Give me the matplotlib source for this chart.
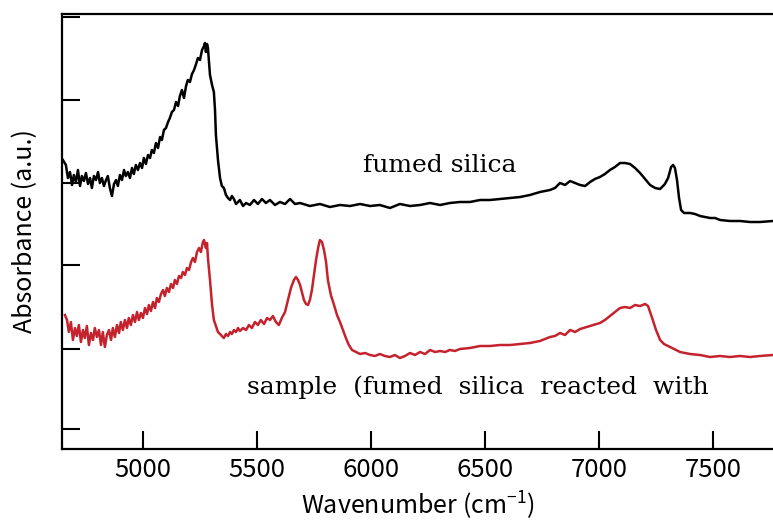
import matplotlib
matplotlib.use("Agg")
import matplotlib.pyplot as plt

plt.rcParams['font.family'] = ['Noto Sans CJK JP', 'DejaVu Sans']
plt.rcParams['mathtext.fontset'] = 'custom'
plt.rcParams['mathtext.rm'] = 'Noto Sans CJK JP'
plt.rcParams['mathtext.it'] = 'Noto Sans CJK JP'

# fumed silica (black), wavenumber in cm-1, absorbance in a.u. (offset)
silica_wn = [4649, 4662, 4671, 4680, 4689, 4697, 4706, 4715, 4724, 4732,
             4741, 4750, 4759, 4768, 4776, 4785, 4794, 4803, 4811, 4820,
             4829, 4838, 4846, 4855, 4864, 4873, 4882, 4890, 4899, 4908,
             4917, 4925, 4934, 4943, 4952, 4960, 4969, 4978, 4987, 4996,
             5004, 5013, 5022, 5031, 5039, 5048, 5057, 5066, 5075, 5083,
             5092, 5101, 5110, 5118, 5127, 5136, 5145, 5154, 5162, 5171,
             5180, 5189, 5197, 5206, 5215, 5224, 5233, 5241, 5250, 5259,
             5268, 5272, 5276, 5281, 5285, 5294, 5303, 5311, 5316, 5320,
             5329, 5338, 5346, 5355, 5364, 5373, 5382, 5390, 5399, 5408,
             5417, 5425, 5439, 5452, 5469, 5487, 5504, 5522, 5539, 5557,
             5579, 5601, 5623, 5645, 5667, 5689, 5732, 5776, 5820, 5864,
             5908, 5952, 5996, 6039, 6083, 6127, 6171, 6215, 6259, 6303,
             6346, 6390, 6434, 6478, 6522, 6566, 6610, 6654, 6697, 6741,
             6785, 6807, 6829, 6851, 6873, 6895, 6917, 6939, 6961, 6982,
             7004, 7026, 7048, 7070, 7092, 7114, 7136, 7158, 7180, 7202,
             7224, 7246, 7268, 7289, 7303, 7316, 7325, 7333, 7342, 7351,
             7360, 7373, 7399, 7421, 7443, 7465, 7487, 7509, 7531, 7574,
             7618, 7662, 7706, 7763]
silica_abs = [2.89, 2.84, 2.71, 2.77, 2.64, 2.74, 2.67, 2.79, 2.63, 2.73,
              2.68, 2.76, 2.65, 2.71, 2.61, 2.73, 2.69, 2.77, 2.66, 2.71,
              2.63, 2.69, 2.73, 2.61, 2.53, 2.65, 2.69, 2.63, 2.74, 2.69,
              2.79, 2.73, 2.77, 2.71, 2.81, 2.75, 2.84, 2.79, 2.86, 2.81,
              2.91, 2.85, 2.94, 2.91, 2.99, 2.96, 3.06, 3.01, 3.12, 3.09,
              3.19, 3.21, 3.27, 3.31, 3.37, 3.39, 3.47, 3.43, 3.53, 3.59,
              3.51, 3.63, 3.69, 3.67, 3.75, 3.79, 3.85, 3.91, 3.89, 3.99,
              4.03, 4.06, 3.97, 4.05, 4.01, 3.74, 3.64, 3.57, 3.39, 3.14,
              2.89, 2.71, 2.63, 2.61, 2.54, 2.51, 2.49, 2.53, 2.50, 2.45,
              2.47, 2.49, 2.43, 2.46, 2.44, 2.49, 2.45, 2.50, 2.46, 2.49,
              2.44, 2.47, 2.45, 2.50, 2.45, 2.46, 2.43, 2.45, 2.42, 2.44,
              2.43, 2.45, 2.43, 2.44, 2.41, 2.45, 2.43, 2.44, 2.46, 2.44,
              2.46, 2.47, 2.47, 2.49, 2.49, 2.50, 2.51, 2.52, 2.54, 2.57,
              2.59, 2.61, 2.66, 2.64, 2.68, 2.66, 2.64, 2.63, 2.67, 2.70,
              2.72, 2.75, 2.79, 2.82, 2.86, 2.86, 2.85, 2.81, 2.76, 2.70,
              2.64, 2.61, 2.60, 2.65, 2.71, 2.82, 2.84, 2.81, 2.69, 2.51,
              2.39, 2.36, 2.36, 2.35, 2.33, 2.32, 2.31, 2.31, 2.29, 2.28,
              2.28, 2.27, 2.27, 2.28]

# sample (red)
sample_wn = [4658, 4667, 4675, 4684, 4693, 4702, 4710, 4719, 4728, 4737,
             4745, 4754, 4763, 4772, 4781, 4789, 4798, 4807, 4816, 4824,
             4833, 4842, 4851, 4860, 4868, 4877, 4886, 4895, 4903, 4912,
             4921, 4930, 4938, 4947, 4956, 4965, 4974, 4982, 4991, 5000,
             5009, 5018, 5026, 5035, 5044, 5053, 5061, 5070, 5079, 5088,
             5096, 5105, 5114, 5123, 5132, 5140, 5149, 5158, 5167, 5175,
             5184, 5193, 5202, 5211, 5219, 5228, 5237, 5246, 5254, 5263,
             5268, 5276, 5281, 5285, 5294, 5303, 5311, 5320, 5329, 5338,
             5346, 5355, 5364, 5373, 5382, 5390, 5399, 5408, 5417, 5425,
             5439, 5452, 5465, 5478, 5491, 5504, 5517, 5531, 5544, 5557,
             5570, 5583, 5596, 5609, 5623, 5636, 5649, 5662, 5671, 5680,
             5689, 5697, 5706, 5715, 5724, 5732, 5741, 5750, 5759, 5768,
             5776, 5785, 5794, 5803, 5811, 5824, 5838, 5851, 5864, 5877,
             5890, 5903, 5917, 5934, 5952, 5974, 5996, 6017, 6039, 6061,
             6083, 6105, 6127, 6149, 6171, 6193, 6215, 6237, 6259, 6281,
             6303, 6325, 6346, 6368, 6390, 6434, 6478, 6522, 6566, 6610,
             6654, 6697, 6741, 6785, 6807, 6829, 6851, 6873, 6895, 6917,
             6961, 7004, 7026, 7048, 7070, 7092, 7114, 7136, 7158, 7180,
             7202, 7215, 7233, 7250, 7268, 7285, 7303, 7320, 7338, 7355,
             7377, 7399, 7443, 7487, 7531, 7574, 7618, 7662, 7706, 7763]
sample_abs = [1.34, 1.29, 1.17, 1.27, 1.09, 1.21, 1.13, 1.24, 1.07, 1.19,
              1.11, 1.23, 1.04, 1.16, 1.09, 1.21, 1.12, 1.19, 1.04, 1.17,
              1.02, 1.14, 1.19, 1.09, 1.21, 1.12, 1.24, 1.16, 1.27, 1.19,
              1.29, 1.21, 1.31, 1.24, 1.34, 1.27, 1.37, 1.29, 1.36, 1.31,
              1.41, 1.35, 1.44, 1.38, 1.47, 1.41, 1.51, 1.47, 1.55, 1.59,
              1.53, 1.61, 1.57, 1.65, 1.61, 1.69, 1.65, 1.73, 1.71, 1.77,
              1.74, 1.81, 1.79, 1.87, 1.91, 1.87, 1.97, 2.01, 1.97, 2.07,
              2.09, 2.01, 2.06, 1.91, 1.69, 1.44, 1.29, 1.23, 1.17, 1.15,
              1.13, 1.11, 1.15, 1.13, 1.17, 1.15, 1.19, 1.17, 1.21, 1.18,
              1.21, 1.19, 1.24, 1.21, 1.27, 1.24, 1.29, 1.25, 1.31, 1.29,
              1.33, 1.27, 1.24, 1.31, 1.37, 1.49, 1.61, 1.69, 1.72, 1.69,
              1.64, 1.57, 1.49, 1.45, 1.44, 1.49, 1.59, 1.74, 1.89, 2.01,
              2.09, 2.07, 1.99, 1.87, 1.69, 1.54, 1.44, 1.34, 1.27, 1.19,
              1.11, 1.04, 0.99, 0.97, 0.95, 0.96, 0.94, 0.93, 0.95, 0.93,
              0.92, 0.94, 0.91, 0.93, 0.96, 0.94, 0.97, 0.95, 0.99, 0.97,
              0.98, 0.97, 0.99, 0.98, 1.00, 1.01, 1.03, 1.03, 1.04, 1.04,
              1.05, 1.06, 1.08, 1.12, 1.13, 1.16, 1.14, 1.19, 1.17, 1.20,
              1.23, 1.26, 1.29, 1.33, 1.37, 1.41, 1.42, 1.41, 1.44, 1.43,
              1.45, 1.43, 1.31, 1.19, 1.09, 1.05, 1.03, 1.01, 0.99, 0.97,
              0.96, 0.95, 0.94, 0.92, 0.93, 0.92, 0.93, 0.92, 0.93, 0.94]

x_ticks = [5000, 5500, 6000, 6500, 7000, 7500]
y_ticks = [0.20, 1.00, 1.84, 2.66, 3.49, 4.32]

fig = plt.figure(figsize=(7.73, 5.26), dpi=100)
ax = fig.add_axes([62 / 773, 77 / 526, 711 / 773, 435 / 526])

ax.plot(silica_wn, silica_abs, color='black', lw=1.8)
ax.plot(sample_wn, sample_abs, color='#c4232d', lw=1.8)

ax.set_xlim(4645, 7763)
ax.set_ylim(0, 4.35)
ax.set_xticks(x_ticks)
ax.set_yticks(y_ticks)
ax.set_yticklabels([])
ax.tick_params(direction='in', length=13, width=1.5, labelsize=18.5, pad=6)
ax.spines['right'].set_visible(False)
for s in ['left', 'top', 'bottom']:
    ax.spines[s].set_linewidth(1.6)

ax.set_xlabel('Wavenumber (cm$^{-1}$)', fontsize=18, labelpad=5)
ax.set_ylabel('Absorbance (a.u.)', fontsize=18, labelpad=11)

ax.text(6302, 2.84, 'fumed silica', family='DejaVu Serif', fontsize=18,
        ha='center', va='center')
ax.text(6469, 0.62, 'sample  (fumed  silica  reacted  with', family='DejaVu Serif',
        fontsize=18, ha='center', va='center')

fig.savefig('out.png', dpi=100)
